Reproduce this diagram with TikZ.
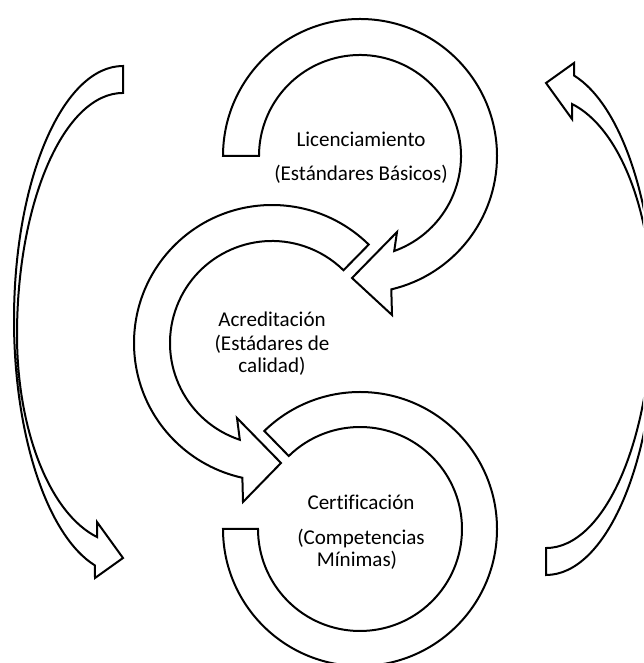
\documentclass[tikz,border=0pt]{standalone}
\usepackage{fontspec}
\setmainfont[Ligatures=NoCommon]{Carlito}
\usetikzlibrary{calc}

\newcommand\sidearrowpath{%
  (123,597) arc[start angle=90, end angle=255.1, x radius=109, y radius=254]
  -- (95,85) -- (123,105) -- (97,141) -- (97,126)
  arc[start angle=255.8, end angle=180, x radius=106, y radius=208.4]
  arc[start angle=180, end angle=90, x radius=106, y radius=242] -- cycle}

\begin{document}
\begin{tikzpicture}[x=0.75pt,y=0.75pt,
  arrowbody/.style={draw=black, line width=1.5pt, fill=white, line join=miter},
  cyclabel/.style={font=\fontsize{15.8}{19}\selectfont, anchor=base, inner sep=0pt}]
\useasboundingbox (0,0) rectangle (643,663);
\clip (0,0) rectangle (643,663);

% centres of the three ring arrows
\coordinate (ctop) at (360,507);
\coordinate (cmid) at (272,320);
\coordinate (cbot) at (360,134);

% top ring: clockwise, head pointing down-left
\draw[arrowbody] ($(ctop)+(180:137)$) arc[start angle=180, end angle=-76.8, radius=137]
  -- (392,348) -- (352,385) -- (397,431)
  -- ($(ctop)+(-70.2:101)$) arc[start angle=-70.2, end angle=180, radius=101] -- cycle;

% middle ring: counter-clockwise, head pointing right
\draw[arrowbody] ($(cmid)+(45.5:102)$) -- ($(cmid)+(45.5:138)$)
  arc[start angle=45.5, end angle=257.6, radius=138]
  -- (243,161) -- (281,200) -- (237,245)
  -- ($(cmid)+(251.6:102)$) arc[start angle=251.6, end angle=45.5, radius=102] -- cycle;

% bottom ring without head
\draw[arrowbody] ($(cbot)+(180:137)$) arc[start angle=180, end angle=494.3, radius=137]
  -- ($(cbot)+(494.3:102)$) arc[start angle=494.3, end angle=180, radius=102] -- cycle;

% large curved arrows on both sides
\draw[arrowbody] \sidearrowpath;
\begin{scope}[rotate around={180:(334.5,342.5)}]
  \draw[arrowbody] \sidearrowpath;
\end{scope}

% labels
\node[cyclabel] (lic1) at (361,516) {Licenciamiento};
\node[cyclabel] (lic2) at (361,482.3) {(Estándares Básicos)};
\node[cyclabel] (acr1) at (272,336.3) {Acreditación};
\node[cyclabel] (acr2) at (272,312.3) {(Estádares de};
\node[cyclabel] (acr3) at (272,290) {calidad)};
\node[cyclabel] (cer1) at (361,153) {Certificación};
\node[cyclabel] (cer2) at (361,118) {(Competencias};
\node[cyclabel] (cer3) at (357,96.3) {Mínimas)};
\end{tikzpicture}
\end{document}
